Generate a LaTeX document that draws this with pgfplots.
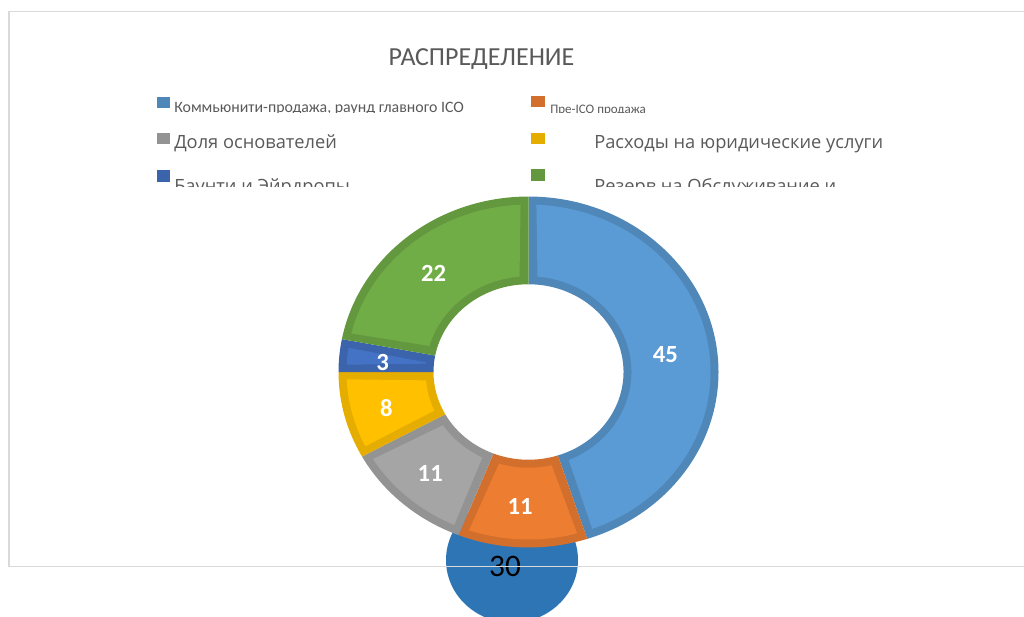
\documentclass[border=0pt]{standalone}
\usepackage{pgfplots}
\pgfplotsset{compat=1.18}
\usepackage{pgfplotstable}
\usepackage{fontspec}
\setmainfont{Carlito}
\newfontfamily\legfont{Open Sans}
\newcommand\fs[1]{\fontsize{#1}{#1}\selectfont}

\definecolor{c1}{HTML}{5B9BD5}
\definecolor{c2}{HTML}{ED7D31}
\definecolor{c3}{HTML}{A5A5A5}
\definecolor{c4}{HTML}{FFC000}
\definecolor{c5}{HTML}{4472C4}
\definecolor{c6}{HTML}{70AD47}
\colorlet{d1}{c1!87!black}
\colorlet{d2}{c2!89!black}
\colorlet{d3}{c3!89!black}
\colorlet{d4}{c4!90!black}
\colorlet{d5}{c5!88!black}
\colorlet{d6}{c6!88!black}
\definecolor{c30}{HTML}{2E75B6}
\definecolor{txtgray}{HTML}{595959}
\definecolor{framegray}{HTML}{D9D9D9}

\pgfplotstableread{
value color
45 1
11 2
11 3
8 4
3 5
22 6
}\piedata

\begin{document}
\begin{tikzpicture}
\begin{axis}[width=768pt,height=462.75pt,scale only axis,
  xmin=0,xmax=1024,ymin=0,ymax=617,y dir=reverse,hide axis,clip=true]
\pgfplotsextra{
  % stray circle behind the donut
  \fill[c30] (axis cs:512,560) ellipse [x radius=49.5pt, y radius=47pt];
  \node[font=\fs{23.5pt}, text=black, anchor=base] at (axis cs:505,576) {30};
  % chart frame
  \draw[framegray, line width=1.1pt] (axis cs:1030,11.5) -- (axis cs:9,11.5) -- (axis cs:9,566.5) -- (axis cs:1030,566.5);
  % title
  \node[font=\fs{19.5pt}, text=txtgray, anchor=base] at (axis cs:481.5,65) {РАСПРЕДЕЛЕНИЕ};
  % legend markers
  \fill[d1] (axis cs:157,97) rectangle (axis cs:169.5,108);
  \fill[d3] (axis cs:157,133) rectangle (axis cs:169.5,144);
  \fill[d5] (axis cs:157,170) rectangle (axis cs:169.5,181.5);
  \fill[d2] (axis cs:531,96) rectangle (axis cs:545,107);
  \fill[d4] (axis cs:531,133) rectangle (axis cs:545,144);
  \fill[d6] (axis cs:531,169) rectangle (axis cs:545,181);
  % legend texts
  \begin{scope}
    \clip (axis cs:150,90) rectangle (axis cs:520,112.3);
    \node[font=\fs{11.9pt}, text=txtgray, anchor=base west, inner sep=0pt] at (axis cs:174,113) {Коммьюнити-продажа, раунд главного ICO};
  \end{scope}
  \begin{scope}
    \clip (axis cs:540,90) rectangle (axis cs:800,112.3);
    \node[font=\fs{9.75pt}, text=txtgray, anchor=base west, inner sep=0pt] at (axis cs:550,113.4) {Пре-ICO продажа};
  \end{scope}
  \node[font=\legfont\fs{13.7pt}, text=txtgray, anchor=base west, inner sep=0pt] at (axis cs:174,148.5) {Доля основателей};
  \node[font=\legfont\fs{13.7pt}, text=txtgray, anchor=base west, inner sep=0pt] at (axis cs:594,148.5) {Расходы на юридические услуги};
  \begin{scope}
    \clip (axis cs:150,160) rectangle (axis cs:1024,186.5);
    \node[font=\legfont\fs{13.7pt}, text=txtgray, anchor=base west, inner sep=0pt] at (axis cs:174,192) {Баунти и Эйрдропы};
    \node[font=\legfont\fs{13.7pt}, text=txtgray, anchor=base west, inner sep=0pt] at (axis cs:594,192) {Резерв на Обслуживание и};
  \end{scope}
  % donut
  \coordinate (C) at (axis cs:528.5,372);
  \def\Rx{142.5pt}\def\Ry{131.6pt}
  \def\rx{71.25pt}\def\ry{65.8pt}
  \def\Rxi{136.5pt}\def\Ryi{125.6pt}
  \def\rxi{77.25pt}\def\ryi{71.8pt}
  \pgfplotstablegetrowsof{\piedata}
  \pgfmathtruncatemacro\nrows{\pgfplotsretval-1}
  \xdef\cum{0}
  \foreach \i in {0,...,\nrows}{
    \pgfplotstablegetelem{\i}{value}\of\piedata \let\v\pgfplotsretval
    \pgfplotstablegetelem{\i}{color}\of\piedata \let\cl\pgfplotsretval
    \pgfmathsetmacro\a{90-3.6*\cum}
    \pgfmathsetmacro\b{\a-3.6*\v}
    \pgfmathsetmacro\m{(\a+\b)/2}
    \pgfmathsetmacro\ao{\a-2.5}
    \pgfmathsetmacro\bo{\b+2.5}
    \pgfmathsetmacro\ai{\a-5}
    \pgfmathsetmacro\bi{\b+5}
    \fill[d\cl] ([shift={(\a:{\Rx} and {\Ry})}]C) arc[start angle=\a, end angle=\b, x radius=\Rx, y radius=\Ry]
      -- ([shift={(\b:{\rx} and {\ry})}]C) arc[start angle=\b, end angle=\a, x radius=\rx, y radius=\ry] -- cycle;
    \fill[c\cl] ([shift={(\ao:{\Rxi} and {\Ryi})}]C) arc[start angle=\ao, end angle=\bo, x radius=\Rxi, y radius=\Ryi]
      -- ([shift={(\bi:{\rxi} and {\ryi})}]C) arc[start angle=\bi, end angle=\ai, x radius=\rxi, y radius=\ryi] -- cycle;
    \node[font=\bfseries\fs{18.5pt}, text=white, xshift=-3pt, yshift=-2.25pt] at ([shift={(\m:{106.9pt} and {98.7pt})}]C) {\v};
    \pgfmathsetmacro\nc{\cum+\v}\xdef\cum{\nc}
  }
}
\end{axis}
\pgfresetboundingbox
\path (current axis.south west) rectangle (current axis.north east);
\end{tikzpicture}
\end{document}
